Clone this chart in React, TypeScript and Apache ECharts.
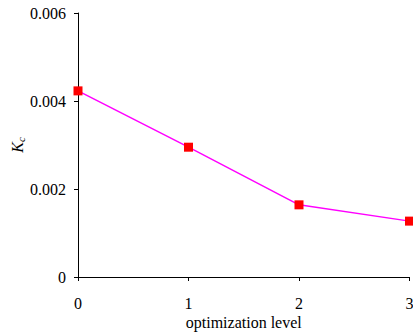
import React, { useEffect, useRef } from "react";
import * as echarts from "echarts";

const levels = [0, 1, 2, 3];
const kcValues = [0.00423, 0.00295, 0.00164, 0.00127];
const yTicks = [0, 0.002, 0.004, 0.006];

export default function App() {
  const ref = useRef<HTMLDivElement>(null);
  useEffect(() => {
    if (!ref.current) return;
    const chart = echarts.init(ref.current, undefined, { renderer: "svg" });
    const font = "Liberation Serif";
    chart.setOption({
      animation: false,
      backgroundColor: "#fff",
      textStyle: { fontFamily: font },
      grid: { left: 78, right: 3.5, top: 13, bottom: 58, containLabel: false, outerBoundsMode: "none" },
      xAxis: {
        type: "value",
        min: 0,
        max: 3,
        interval: 1,
        name: "optimization level",
        nameLocation: "middle",
        nameGap: 37,
        nameMoveOverlap: false,
        nameTextStyle: { fontFamily: font, fontSize: 16, color: "#000" },
        axisLine: { show: true, lineStyle: { color: "#000", width: 1 } },
        axisTick: { show: true, length: 4, lineStyle: { color: "#000" } },
        axisLabel: { fontFamily: font, fontSize: 16, color: "#000", margin: 18 },
        splitLine: { show: false },
      },
      yAxis: {
        type: "value",
        min: 0,
        max: 0.006,
        interval: 0.002,
        name: "{k|K}{c|c}",
        nameLocation: "middle",
        nameRotate: 90,
        nameGap: 52,
        nameMoveOverlap: false,
        nameTextStyle: {
          fontFamily: font,
          rich: {
            k: { fontFamily: font, fontSize: 16, fontStyle: "italic", color: "#000" },
            c: { fontFamily: font, fontSize: 11, fontStyle: "italic", color: "#000", verticalAlign: "bottom", padding: [6, 0, 0, 0] },
          },
        },
        axisLine: { show: true, lineStyle: { color: "#000", width: 1 } },
        axisTick: { show: true, length: 4, lineStyle: { color: "#000" } },
        axisLabel: {
          fontFamily: font,
          fontSize: 16,
          color: "#000",
          margin: 12,
          formatter: (v: number) => {
            const t = yTicks.find((x) => Math.abs(x - v) < 1e-9);
            return t === 0 ? "0" : (t ?? v).toFixed(3);
          },
        },
        splitLine: { show: false },
      },
      series: [
        {
          type: "line",
          data: levels.map((l, i) => [l, kcValues[i]]),
          lineStyle: { color: "#FF00FF", width: 1.5 },
          itemStyle: { color: "#FF0000" },
          symbol: "rect",
          symbolSize: 9,
          clip: false,
        },
      ],
    });
    return () => chart.dispose();
  }, []);
  return (
    <div
      ref={ref}
      style={{ position: "absolute", left: 0, top: 0, width: 413, height: 335 }}
    />
  );
}
